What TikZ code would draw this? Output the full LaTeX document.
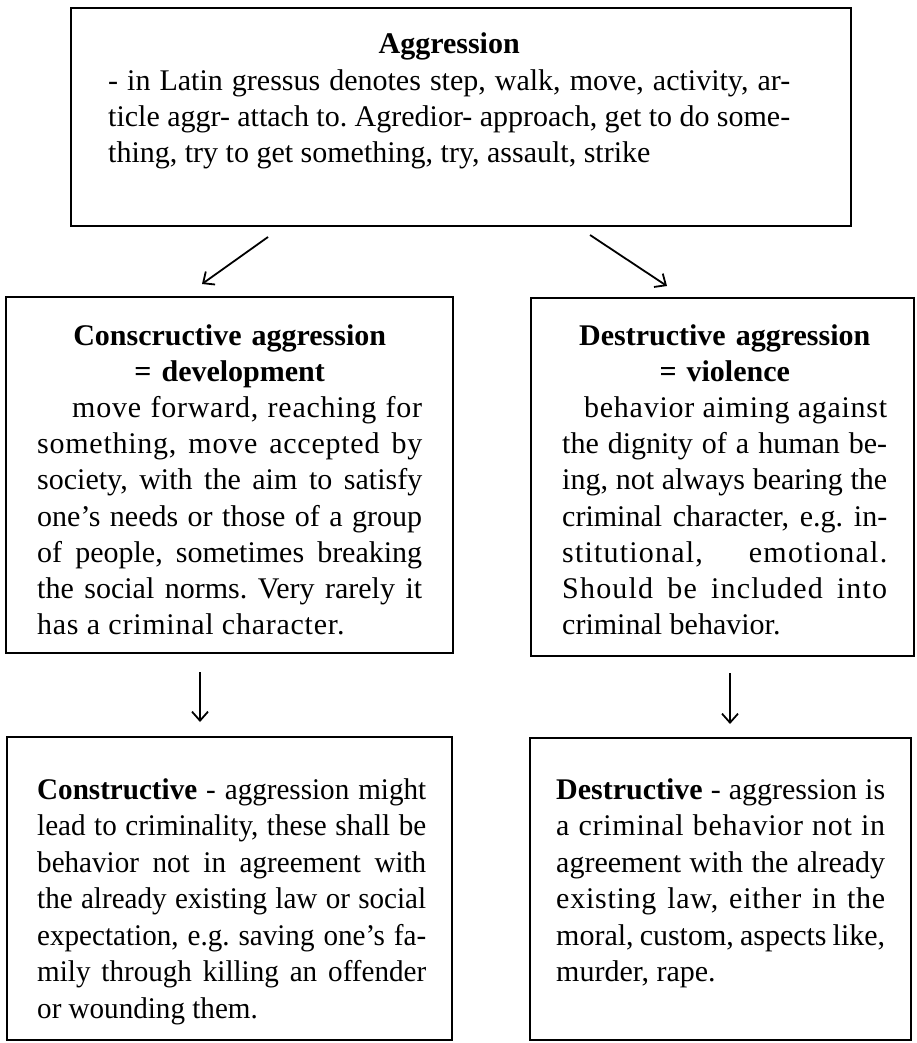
\documentclass[tikz,border=0pt]{standalone}
\usepackage{fontspec}
\setmainfont{Liberation Serif}
\newfontfamily\mainf{Liberation Serif}
\newfontfamily\midls[LetterSpace=2.5]{Liberation Serif}
\newfontfamily\midlsb[LetterSpace=4]{Liberation Serif}
\newfontfamily\botlfont[FakeStretch=0.97]{Liberation Serif}
\usetikzlibrary{arrows.meta}
\newcommand\jl[1]{{\spaceskip=0pt\xspaceskip=0pt\hbox to \hsize{#1}}\par}
\frenchspacing
\begin{document}
\begin{tikzpicture}[x=1pt,y=-1pt,
  box/.style={draw, line width=2.2pt, inner sep=0pt},
  txt/.style={anchor=base west, inner sep=0pt, align=left},
  arr/.style={line width=1.8pt, -{Straight Barb[length=9pt,width=16pt]}}]
\useasboundingbox (0,0) rectangle (917,1043);
\fill[white] (0,0) rectangle (917,1043);
% boxes
\node[box, minimum width=780pt, minimum height=218pt] (top) at (461,117) {};
\node[box, minimum width=447pt, minimum height=356pt] (midL) at (229.5,475) {};
\node[box, minimum width=383pt, minimum height=358pt] (midR) at (722.5,477) {};
\node[box, minimum width=445pt, minimum height=303pt] (botL) at (229.5,888.5) {};
\node[box, minimum width=381pt, minimum height=302pt] (botR) at (720.5,889) {};
% texts
\node[txt, text width=682pt, font=\fontsize{30}{36.2}\mainf\frenchspacing] (toptxt) at (108,54) {%
{\centering\bfseries Aggression\par}%
\jl{- in Latin gressus denotes step, walk, move, activity, ar-}%
\jl{ticle aggr- attach to. Agredior- approach, get to do some-}%
{\spaceskip=0pt thing, try to get something, try, assault, strike}};
\node[txt, text width=385pt, font=\fontsize{30}{36.2}\mainf\frenchspacing] (midLtxt) at (37,345) {%
{\centering\bfseries Conscructive aggression\par = development\par}%
\jl{\midls\hspace*{35pt}move forward, reaching for}%
\jl{\midls something, move accepted by}%
\jl{society, with the aim to satisfy}%
\jl{one’s needs or those of a group}%
\jl{of people, sometimes breaking}%
\jl{the social norms. Very rarely it}%
{\midls\spaceskip=0pt has a criminal character.}};
\node[txt, text width=325pt, font=\fontsize{30}{36.2}\mainf\frenchspacing] (midRtxt) at (562,345) {%
{\centering\bfseries Destructive aggression\par = violence\par}%
\jl{\midls\hspace*{22pt}behavior aiming against}%
\jl{the dignity of a human be-}%
\jl{ing, not always bearing the}%
\jl{criminal character, e.g. in-}%
\jl{\midlsb stitutional, emotional.}%
\jl{\midlsb Should be included into}%
{\spaceskip=0pt criminal behavior.}};
\node[txt, text width=389pt, font=\fontsize{30}{36.5}\botlfont\frenchspacing] (botLtxt) at (37,799) {%
\jl{\textbf{Constructive} - aggression might}%
\jl{lead to criminality, these shall be}%
\jl{behavior not in agreement with}%
\jl{the already existing law or social}%
\jl{expectation, e.g. saving one’s fa-}%
\jl{mily through killing an offender}%
{\spaceskip=0pt or wounding them.}};
\node[txt, text width=329pt, font=\fontsize{30}{36.5}\mainf\frenchspacing] (botRtxt) at (556,799) {%
\jl{\textbf{Destructive} - aggression is}%
\jl{\midls a criminal behavior not in}%
\jl{agreement with the already}%
\jl{\midls existing law, either in the}%
\jl{moral, custom, aspects like,}%
{\spaceskip=0pt murder, rape.}};
% arrows
\coordinate (a1s) at (268,237); \coordinate (a1e) at (202,284);
\coordinate (a2s) at (590,235); \coordinate (a2e) at (667,286);
\coordinate (a3s) at (200,672); \coordinate (a3e) at (200,722);
\coordinate (a4s) at (730,673); \coordinate (a4e) at (730,724);
\draw[arr] (a1s) -- (a1e);
\draw[arr] (a2s) -- (a2e);
\draw[arr] (a3s) -- (a3e);
\draw[arr] (a4s) -- (a4e);
\end{tikzpicture}
\end{document}
